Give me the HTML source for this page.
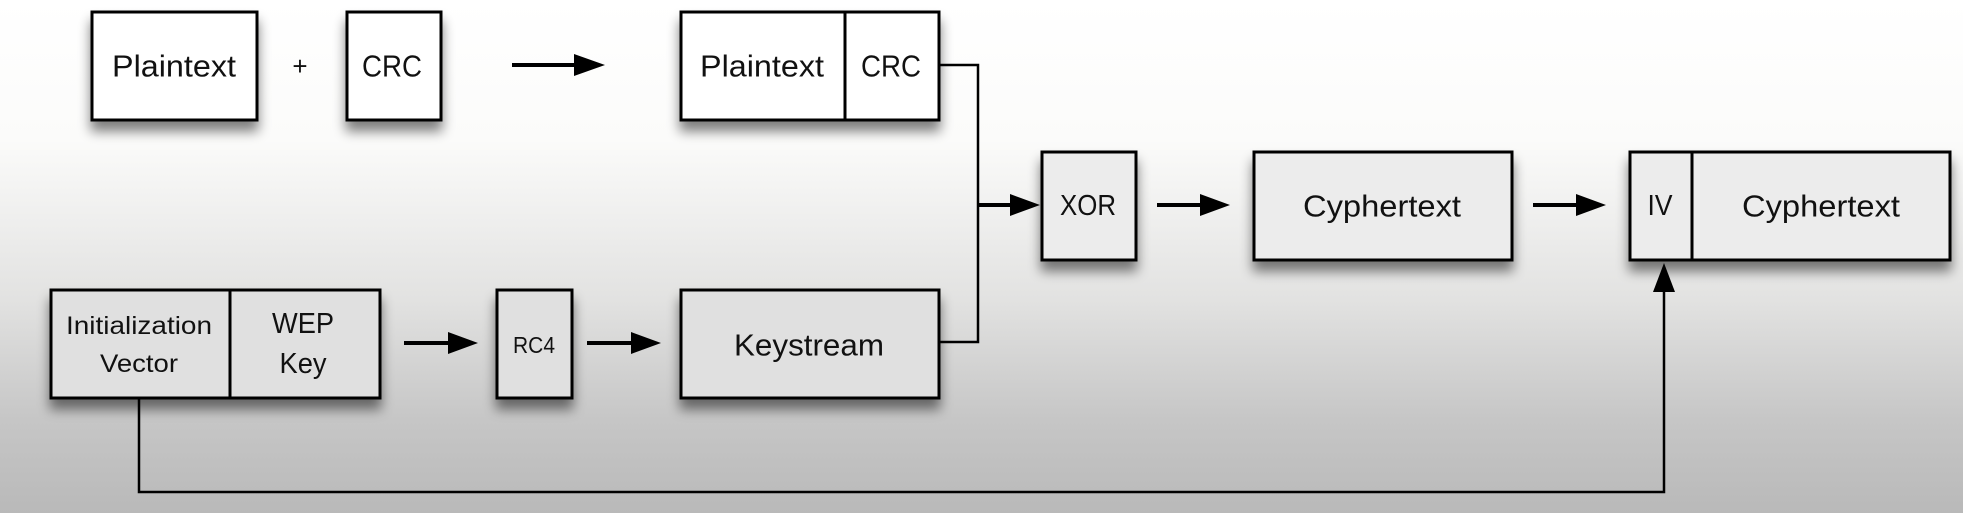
<!DOCTYPE html>
<html><head><meta charset="utf-8"><style>
html,body{margin:0;padding:0}
body{width:1963px;height:513px;overflow:hidden;background:linear-gradient(to bottom,#ffffff 0px,#fbfbfa 140px,#e2e2e1 300px,#c6c6c6 420px,#b9b9b9 513px);}
svg{position:absolute;left:0;top:0}
text{font-family:"Liberation Sans",sans-serif;fill:#111;text-anchor:middle;dominant-baseline:central}
</style></head><body>
<svg width="1963" height="513" viewBox="0 0 1963 513">
<defs>
<filter id="sh" x="-20%" y="-20%" width="140%" height="160%"><feGaussianBlur in="SourceAlpha" stdDeviation="6"/><feOffset dx="0" dy="10"/><feComponentTransfer><feFuncA type="linear" slope="0.5"/></feComponentTransfer><feMerge><feMergeNode/><feMergeNode in="SourceGraphic"/></feMerge></filter>
</defs>
<g stroke="#000" stroke-width="3" filter="url(#sh)">
<rect x="92" y="12" width="165" height="108" fill="#fff"/>
<rect x="347" y="12" width="94" height="108" fill="#fff"/>
<rect x="681" y="12" width="258" height="108" fill="#fff"/>
<rect x="51" y="290" width="329" height="108" fill="#e0e0e0"/>
<rect x="497" y="290" width="75" height="108" fill="#e0e0e0"/>
<rect x="681" y="290" width="258" height="108" fill="#e0e0e0"/>
<rect x="1042" y="152" width="94" height="108" fill="#ececec"/>
<rect x="1254" y="152" width="258" height="108" fill="#ececec"/>
<rect x="1630" y="152" width="320" height="108" fill="#ececec"/>
</g>
<g stroke="#000" stroke-width="3" fill="none">
<line x1="845" y1="12" x2="845" y2="120"/>
<line x1="230" y1="290" x2="230" y2="398"/>
<line x1="1692" y1="152" x2="1692" y2="260"/>
<polyline points="939,65 978,65 978,342 939,342" stroke-width="2.5"/>
<polyline points="139,398 139,492 1664,492 1664,290" stroke-width="2.5"/>
</g>
<g fill="#000">
<rect x="512" y="63" width="64" height="4"/><path d="M574,54 L605,65 L574,76 z"/>
<rect x="404" y="341" width="46" height="4"/><path d="M448,332 L478,343 L448,354 z"/>
<rect x="587" y="341" width="46" height="4"/><path d="M631,332 L661,343 L631,354 z"/>
<rect x="978" y="203" width="34" height="4"/><path d="M1010,194 L1040,205 L1010,216 z"/>
<rect x="1157" y="203" width="45" height="4"/><path d="M1200,194 L1230,205 L1200,216 z"/>
<rect x="1533" y="203" width="45" height="4"/><path d="M1576,194 L1606,205 L1576,216 z"/>
<path d="M1664,263 L1653,292 L1675,292 z"/>
</g>
<g lengthAdjust="spacingAndGlyphs">
<text x="174" y="66" font-size="31" textLength="124" lengthAdjust="spacingAndGlyphs">Plaintext</text>
<text x="300" y="66" font-size="26">+</text>
<text x="392" y="66" font-size="31" textLength="60" lengthAdjust="spacingAndGlyphs">CRC</text>
<text x="762" y="66" font-size="31" textLength="124" lengthAdjust="spacingAndGlyphs">Plaintext</text>
<text x="891" y="66" font-size="31" textLength="60" lengthAdjust="spacingAndGlyphs">CRC</text>
<text x="139" y="326" font-size="25" textLength="146" lengthAdjust="spacingAndGlyphs">Initialization</text>
<text x="139" y="364" font-size="25" textLength="78" lengthAdjust="spacingAndGlyphs">Vector</text>
<text x="303" y="324" font-size="29" textLength="62" lengthAdjust="spacingAndGlyphs">WEP</text>
<text x="303" y="364" font-size="29" textLength="47" lengthAdjust="spacingAndGlyphs">Key</text>
<text x="534" y="345" font-size="23" textLength="42" lengthAdjust="spacingAndGlyphs">RC4</text>
<text x="809" y="345" font-size="31" textLength="150" lengthAdjust="spacingAndGlyphs">Keystream</text>
<text x="1088" y="206" font-size="29" textLength="56" lengthAdjust="spacingAndGlyphs">XOR</text>
<text x="1382" y="206" font-size="31" textLength="158" lengthAdjust="spacingAndGlyphs">Cyphertext</text>
<text x="1660" y="206" font-size="29" textLength="25" lengthAdjust="spacingAndGlyphs">IV</text>
<text x="1821" y="206" font-size="31" textLength="158" lengthAdjust="spacingAndGlyphs">Cyphertext</text>
</g>
</svg>
</body></html>
